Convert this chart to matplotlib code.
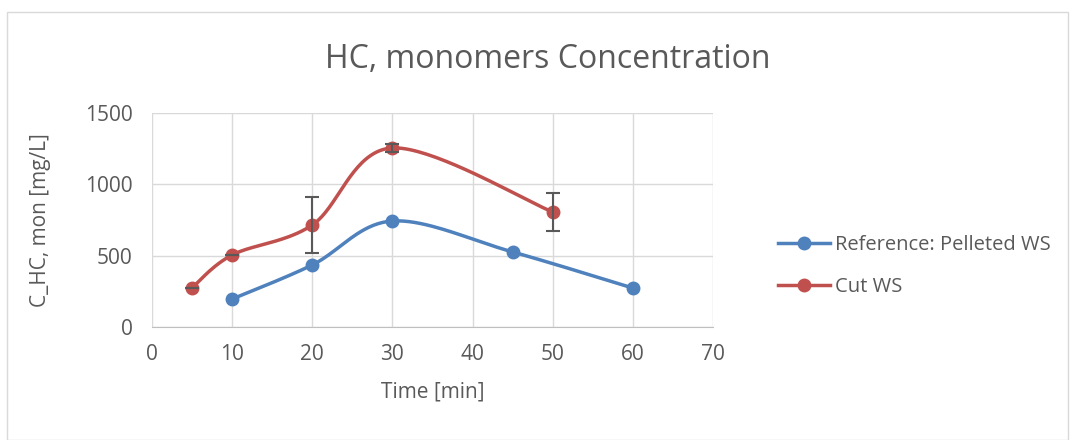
import numpy as np
import matplotlib.pyplot as plt
from matplotlib.patches import Rectangle

# data
time_ref = [10, 20, 30, 45, 60]
conc_ref = [196, 435, 743, 526, 273]

time_cut = [5, 10, 20, 30, 50]
conc_cut = [275, 505, 715, 1255, 806]
err_cut = [0, 0, 195, 30, 136]

plt.rcParams['font.family'] = ['Open Sans', 'DejaVu Sans']

blue = '#4F81BD'
red = '#C0504D'
grey_text = '#595959'


def smooth(x, y, ax, n=40):
    # Excel-style smoothed line: cubic bezier with catmull-rom control points in screen space
    pts = ax.transData.transform(np.column_stack([x, y]))
    out = [pts[0]]
    for i in range(len(pts) - 1):
        p0 = pts[i - 1] if i > 0 else pts[i]
        p1 = pts[i]
        p2 = pts[i + 1]
        p3 = pts[i + 2] if i + 2 < len(pts) else pts[i + 1]
        c1 = p1 + (p2 - p0) / 6
        c2 = p2 - (p3 - p1) / 6
        t = np.linspace(0, 1, n)[1:, None]
        seg = ((1 - t) ** 3) * p1 + 3 * ((1 - t) ** 2) * t * c1 + 3 * (1 - t) * t ** 2 * c2 + t ** 3 * p2
        out.extend(seg)
    out = np.array(out)
    d = ax.transData.inverted().transform(out)
    return d[:, 0], d[:, 1]


fig = plt.figure(figsize=(10.73, 4.4), dpi=100)
ax = fig.add_axes([152 / 1073, 1 - 327 / 440, (713 - 152) / 1073, (327 - 113) / 440])
fig.patches.append(Rectangle((7 / 1073, 0), 1061 / 1073, 1 - 12 / 440, transform=fig.transFigure,
                             fill=False, edgecolor='#D9D9D9', lw=1))

ax.set_xlim(0, 70)
ax.set_ylim(0, 1500)
ax.set_xticks(range(0, 71, 10))
ax.set_yticks([0, 500, 1000, 1500])
ax.grid(True, color='#D9D9D9', lw=1)
ax.set_axisbelow(True)
for s in ['top', 'right', 'left']:
    ax.spines[s].set_visible(False)
ax.spines['bottom'].set_color('#BFBFBF')
ax.tick_params(length=0, labelsize=15, colors=grey_text)
ax.tick_params(axis='x', pad=12)
ax.tick_params(axis='y', pad=14)

xs, ys = smooth(time_ref, conc_ref, ax)
ax.plot(xs, ys, color=blue, lw=2.5, solid_capstyle='round')
ax.plot(time_ref, conc_ref, 'o', color=blue, ms=9)

xs, ys = smooth(time_cut, conc_cut, ax)
ax.plot(xs, ys, color=red, lw=2.5, solid_capstyle='round')
ax.plot(time_cut, conc_cut, 'o', color=red, ms=9)
ax.errorbar(time_cut, conc_cut, yerr=err_cut, fmt='none', ecolor='#595959', lw=1.5, capsize=5, capthick=1.5)

fig.text(548 / 1073, 1 - 60 / 440, 'HC, monomers Concentration', fontsize=23, color=grey_text,
         ha='center', va='center')
ax.set_xlabel('Time [min]', fontsize=15, color=grey_text, labelpad=12)
ax.set_ylabel('C_HC, mon [mg/L]', fontsize=15, color=grey_text, labelpad=24)

h1, = ax.plot([], [], '-o', color=blue, lw=2.5, ms=9)
h2, = ax.plot([], [], '-o', color=red, lw=2.5, ms=9)
fig.legend([h1, h2], ['Reference: Pelleted WS', 'Cut WS'], loc='center left',
           bbox_to_anchor=(760 / 1073, 1 - 266 / 440), frameon=False, fontsize=14.5,
           labelcolor=grey_text, handlelength=2.6, handletextpad=0.2, labelspacing=1.1)

fig.savefig('out.png', dpi=100)
